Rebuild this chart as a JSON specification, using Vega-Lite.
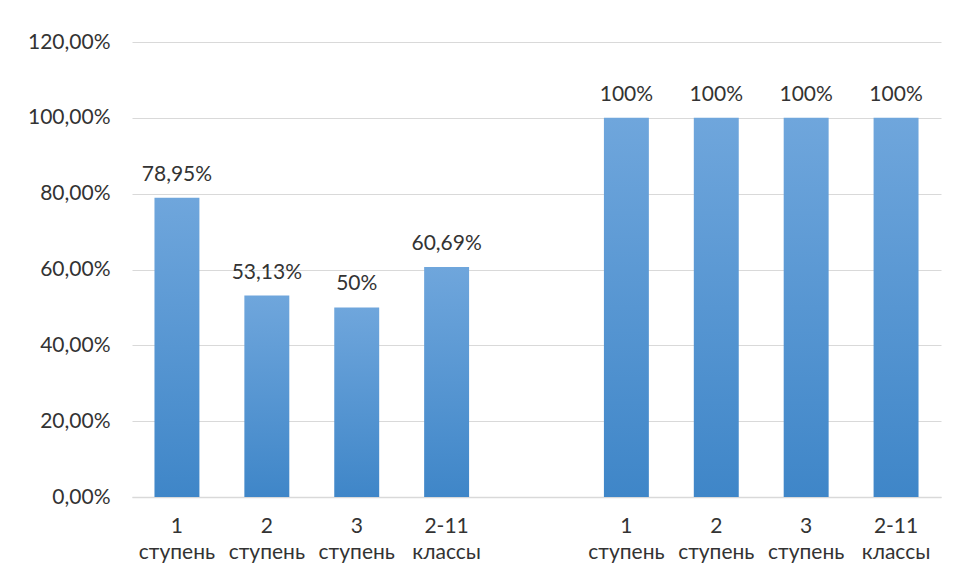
{
  "$schema": "https://vega.github.io/schema/vega-lite/v6.json",
  "width": 809,
  "height": 455,
  "autosize": "none",
  "padding": {"left": 132, "top": 42, "right": 14, "bottom": 83},
  "background": "white",
  "config": {
    "font": "Lato",
    "view": {"stroke": null},
    "axis": {"labelFont": "Lato", "labelFontSize": 21, "labelColor": "#333333"}
  },
  "data": {
    "values": [
      {"key": "1 ступень|a", "value": 0.7895, "label": "78,95%"},
      {"key": "2 ступень|a", "value": 0.5313, "label": "53,13%"},
      {"key": "3 ступень|a", "value": 0.5, "label": "50%"},
      {"key": "2-11 классы|a", "value": 0.6069, "label": "60,69%"},
      {"key": "1 ступень|b", "value": 1.0, "label": "100%"},
      {"key": "2 ступень|b", "value": 1.0, "label": "100%"},
      {"key": "3 ступень|b", "value": 1.0, "label": "100%"},
      {"key": "2-11 классы|b", "value": 1.0, "label": "100%"}
    ]
  },
  "encoding": {
    "x": {
      "field": "key",
      "type": "nominal",
      "sort": null,
      "scale": {
        "domain": ["1 ступень|a", "2 ступень|a", "3 ступень|a", "2-11 классы|a", "gap", "1 ступень|b", "2 ступень|b", "3 ступень|b", "2-11 классы|b"],
        "paddingInner": 0.5,
        "paddingOuter": 0.25
      },
      "axis": {
        "title": null,
        "labelAngle": 0,
        "ticks": false,
        "domainColor": "#d9d9d9",
        "domainWidth": 1.5,
        "labelPadding": 18,
        "labelLineHeight": 26,
        "labelBaseline": "top",
        "labelExpr": "datum.value == 'gap' ? '' : split(split(datum.value, '|')[0], ' ')"
      }
    },
    "y": {
      "field": "value",
      "type": "quantitative",
      "scale": {"domain": [0, 1.2]},
      "axis": {
        "title": null,
        "values": [0, 0.2, 0.4, 0.6, 0.8, 1.0, 1.2],
        "domain": false,
        "ticks": false,
        "gridColor": "#d9d9d9",
        "gridWidth": 1.2,
        "labelPadding": 22,
        "labelExpr": "replace(format(datum.value, '.2%'), '.', ',')"
      }
    }
  },
  "layer": [
    {
      "mark": {
        "type": "bar",
        "color": {
          "gradient": "linear",
          "x1": 0, "y1": 0, "x2": 0, "y2": 1,
          "stops": [
            {"offset": 0, "color": "#6fa6dc"},
            {"offset": 1, "color": "#3f86c8"}
          ]
        }
      }
    },
    {
      "mark": {"type": "text", "baseline": "alphabetic", "dy": -17, "fontSize": 21, "color": "#333333", "font": "Lato"},
      "encoding": {"text": {"field": "label"}}
    }
  ]
}
